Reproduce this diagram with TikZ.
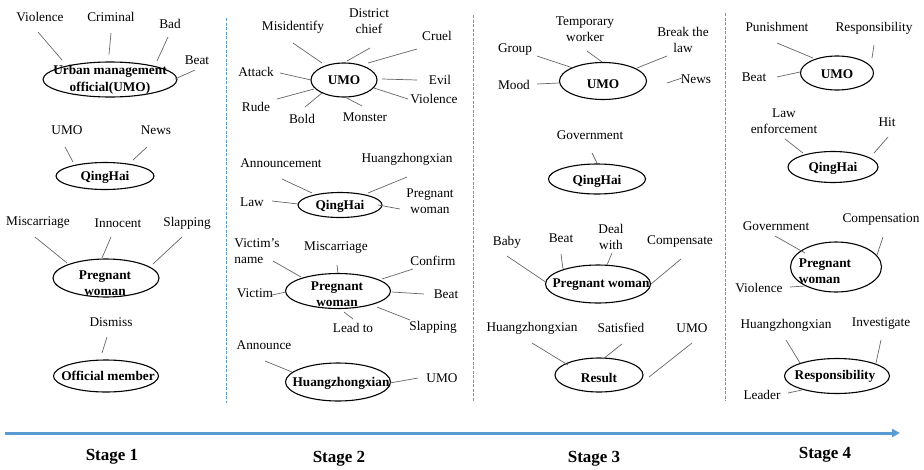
\documentclass[tikz,border=0pt]{standalone}
\usepackage{fontspec}
\setmainfont{Liberation Serif}
\usetikzlibrary{shapes.geometric,arrows.meta}
\definecolor{tlblue}{RGB}{91,155,213}
% connector from a keyword (offset from its centre) to a topic ellipse (offset from its centre)
\newcommand\linkto[4]{\draw[link] ([shift={#2}]#1.center) -- ([shift={#4}]#3.center);}
\begin{document}
\begin{tikzpicture}[x=1pt,y=-1pt,
  lbl/.style={font=\fontsize{13.3}{15.5}\selectfont, inner sep=0pt, align=center},
  etext/.style={font=\fontsize{13.3}{16.5}\selectfont\bfseries, inner sep=0pt, align=center},
  ell/.style 2 args={ellipse, draw=black, line width=1.1pt, inner sep=0pt,
                     minimum width=#1pt, minimum height=#2pt},
  link/.style={draw=black!60, line width=0.7pt},
  sep/.style={draw=tlblue, line width=1pt, dash pattern=on 3pt off 1.5pt},
  stage/.style={font=\fontsize{17}{20}\selectfont\bfseries, inner sep=0pt}]
\useasboundingbox (0,0) rectangle (924,469);

% ---------- stage separators ----------
\draw[sep] (226,18) -- (226,403);
\draw[sep] (473,15) -- (473,401);
\draw[sep] (725,13) -- (725,401);

% ---------- Stage 1 ----------
\node[ell={134}{35}] (e1) at (110,79.5) {};
\node[etext] (e1t) at (110,80) {Urban management\\official(UMO)};
\node[lbl] (vio1) at (40,17) {Violence};
\node[lbl] (cri1) at (111,17) {Criminal};
\node[lbl] (bad1) at (170,24) {Bad};
\node[lbl] (beat1) at (197,60) {Beat};
\linkto{vio1}{(-2,15)}{e1}{(-48,-19.5)}
\linkto{cri1}{(0,16)}{e1}{(-1,-25)}
\linkto{bad1}{(-2,13)}{e1}{(47,-18.5)}
\linkto{beat1}{(-2,10)}{e1}{(65,-0.5)}

\node[ell={98}{27}] (e2) at (105,176) {};
\node[etext] (e2t) at (105,177) {QingHai};
\node[lbl] (umo1) at (67,130) {UMO};
\node[lbl] (news1) at (156,130) {News};
\linkto{umo1}{(-2,17)}{e2}{(-32,-14)}
\linkto{news1}{(-9,17)}{e2}{(28,-16)}

\node[ell={106}{38}] (e3) at (106,278) {};
\node[etext] (e3t) at (105,283) {Pregnant\\woman};
\node[lbl] (mis1) at (38,223) {Miscarriage};
\node[lbl] (inn1) at (118,223) {Innocent};
\node[lbl] (sla1) at (187,223) {Slapping};
\linkto{mis1}{(-3,14)}{e3}{(-39,-15)}
\linkto{inn1}{(-7,14)}{e3}{(-4,-20)}
\linkto{sla1}{(-5,14)}{e3}{(47,-14)}

\node[ell={105}{32}] (e4) at (106,376) {};
\node[etext] (e4t) at (108,376) {Official member};
\node[lbl] (dis1) at (111,322) {Dismiss};
\linkto{dis1}{(-4,15)}{e4}{(-4,-23)}

% ---------- Stage 2 ----------
\node[ell={66}{34}] (e5) at (344,80) {};
\node[etext] (e5t) at (344,80) {UMO};
\node[lbl] (misid) at (293,27) {Misidentify};
\node[lbl] (dist) at (369,21) {District\\chief};
\node[lbl] (cruel) at (437,36) {Cruel};
\node[lbl] (attack) at (256,72) {Attack};
\node[lbl] (evil) at (440,80) {Evil};
\node[lbl] (viol2) at (434,99) {Violence};
\node[lbl] (rude) at (256,107) {Rude};
\node[lbl] (bold) at (302,119) {Bold};
\node[lbl] (monster) at (365,117) {Monster};
\linkto{misid}{(0,16)}{e5}{(-22,-17)}
\linkto{dist}{(1,27)}{e5}{(3,-19)}
\linkto{cruel}{(-20,13)}{e5}{(24,-17)}
\linkto{attack}{(24,1)}{e5}{(-33,0)}
\linkto{evil}{(-23,0)}{e5}{(38,-1)}
\linkto{viol2}{(-26,0)}{e5}{(30,8)}
\linkto{rude}{(21,-8)}{e5}{(-30,9)}
\linkto{bold}{(3,-12)}{e5}{(-22,13)}
\linkto{monster}{(-3,-11)}{e5}{(1,17)}

\node[ell={84}{25}] (e6) at (340,205) {};
\node[etext] (e6t) at (340,206) {QingHai};
\node[lbl] (annc) at (281,163) {Announcement};
\node[lbl] (huang2a) at (407,159) {Huangzhongxian};
\node[lbl] (law2) at (252,202) {Law};
\node[lbl] (pw2) at (430,201) {Pregnant\\woman};
\linkto{annc}{(1,16)}{e6}{(-28,-12)}
\linkto{huang2a}{(0,18)}{e6}{(28,-12)}
\linkto{law2}{(20,-1)}{e6}{(-42,-1)}
\linkto{pw2}{(-30,8)}{e6}{(38,0)}

\node[ell={105}{35}] (e7) at (338,291) {};
\node[etext] (e7t) at (337,294) {Pregnant\\woman};
\node[lbl, align=left] (vname) at (257,251) {Victim’s\\name};
\node[lbl] (mis2) at (336,248) {Miscarriage};
\node[lbl] (confirm) at (433,261) {Confirm};
\node[lbl] (victim) at (255,293) {Victim};
\node[lbl] (beat2) at (446,294) {Beat};
\node[lbl] (slap2) at (433,327) {Slapping};
\node[lbl] (lead) at (353,328) {Lead to};
\linkto{vname}{(16,10)}{e7}{(-37,-14)}
\linkto{mis2}{(1,17)}{e7}{(0,-18)}
\linkto{confirm}{(-20,8)}{e7}{(44,-12)}
\linkto{victim}{(17,2)}{e7}{(-52,1)}
\linkto{beat2}{(-22,0)}{e7}{(54,1)}
\linkto{slap2}{(-23,-7)}{e7}{(39,16)}
\linkto{lead}{(0,-9)}{e7}{(6,21)}

\node[ell={105}{38}] (e8) at (338,382) {};
\node[etext] (e8t) at (341,383) {Huangzhongxian};
\node[lbl] (announce) at (264,345) {Announce};
\node[lbl] (umo2) at (442,378) {UMO};
\linkto{announce}{(1,16)}{e8}{(-46,-10)}
\linkto{umo2}{(-24,0)}{e8}{(52,1)}

% ---------- Stage 3 ----------
\node[ell={87}{37}] (e9) at (603,81) {};
\node[etext] (e9t) at (603,84) {UMO};
\node[lbl] (temp) at (585,29) {Temporary\\worker};
\node[lbl] (brk) at (683,40) {Break the\\law};
\node[lbl] (group) at (515,50) {Group};
\node[lbl] (mood) at (514,85) {Mood};
\node[lbl] (news3) at (696,79) {News};
\coordinate (newsstub) at (667,83);
\linkto{temp}{(2,22)}{e9}{(-1,-19)}
\linkto{group}{(22,6)}{e9}{(-30,-13)}
\linkto{brk}{(-16,16)}{e9}{(34,-13)}
\linkto{mood}{(23,-1)}{e9}{(-44,2)}
\draw[link] (newsstub) -- ([shift={(-14,-1)}]news3.center);

\node[ell={97}{30}] (e10) at (597,179) {};
\node[etext] (e10t) at (597,181) {QingHai};
\node[lbl] (gov3) at (590,135) {Government};
\linkto{gov3}{(2,18)}{e10}{(0,-16)}

\node[ell={105}{38}] (e11) at (598,284) {};
\node[etext] (e11t) at (601,285) {Pregnant woman};
\node[lbl] (baby) at (507,242) {Baby};
\node[lbl] (beat3) at (561,238) {Beat};
\node[lbl] (deal) at (611,237) {Deal\\with};
\node[lbl] (comp3) at (680,242) {Compensate};
\linkto{baby}{(0,14)}{e11}{(-51,-1)}
\linkto{beat3}{(0,16)}{e11}{(-35,-15)}
\linkto{deal}{(1,16)}{e11}{(9,-19)}
\linkto{comp3}{(1,17)}{e11}{(53,0)}

\node[ell={88}{34}] (e12) at (599,375) {};
\node[etext] (e12t) at (599,378) {Result};
\node[lbl] (huang3) at (532,328) {Huangzhongxian};
\node[lbl] (sat) at (621,328) {Satisfied};
\node[lbl] (umo3) at (692,328) {UMO};
\linkto{huang3}{(0,15)}{e12}{(-31,-10)}
\linkto{sat}{(1,16)}{e12}{(4,-16)}
\linkto{umo3}{(0,15)}{e12}{(50,2)}

% ---------- Stage 4 ----------
\node[ell={73}{34}] (e13) at (837,73) {};
\node[etext] (e13t) at (837,74) {UMO};
\node[lbl] (pun) at (777,27) {Punishment};
\node[lbl] (resp) at (874,28) {Responsibility};
\node[lbl] (beat4) at (754,77) {Beat};
\linkto{pun}{(0,16)}{e13}{(-24,-15)}
\linkto{resp}{(0,17)}{e13}{(35,-15)}
\linkto{beat4}{(23,0)}{e13}{(-37,-1)}

\node[ell={90}{31}] (e14) at (833,167) {};
\node[etext] (e14t) at (833,168) {QingHai};
\node[lbl] (lawenf) at (784,121) {Law\\enforcement};
\node[lbl] (hit) at (887,122) {Hit};
\linkto{lawenf}{(1,18)}{e14}{(-30,-14)}
\linkto{hit}{(1,15)}{e14}{(41,-14)}

\node[ell={91}{50}] (e15) at (836,267) {};
\node[etext, align=left] (e15t) at (825,271) {Pregnant\\woman};
\node[lbl] (gov4) at (776,226) {Government};
\node[lbl] (compn) at (881,220) {Compensation};
\node[lbl] (viol4) at (759,288) {Violence};
\linkto{gov4}{(-1,10)}{e15}{(-31,-14)}
\linkto{compn}{(2,17)}{e15}{(41,-12)}
\linkto{viol4}{(31,-1)}{e15}{(-31,19)}

\node[ell={105}{35}] (e16) at (837,376) {};
\node[etext] (e16t) at (835,376) {Responsibility};
\node[lbl] (huang4) at (786,325) {Huangzhongxian};
\node[lbl] (invest) at (881,324) {Investigate};
\node[lbl] (leader) at (762,395) {Leader};
\linkto{huang4}{(0,15)}{e16}{(-37,-13)}
\linkto{invest}{(0,16)}{e16}{(39,-13)}
\linkto{leader}{(26,-2)}{e16}{(-35,14)}

% ---------- timeline ----------
\coordinate (tlstart) at (5,433);
\coordinate (tlend) at (900,433);
\draw[draw=tlblue, line width=3pt, -{Triangle[length=8pt,width=8pt]}] (tlstart) -- (tlend);
\node[stage] (st1) at (112,457) {Stage 1};
\node[stage] (st2) at (339,459) {Stage 2};
\node[stage] (st3) at (594,459) {Stage 3};
\node[stage] (st4) at (825,455) {Stage 4};
\end{tikzpicture}
\end{document}
